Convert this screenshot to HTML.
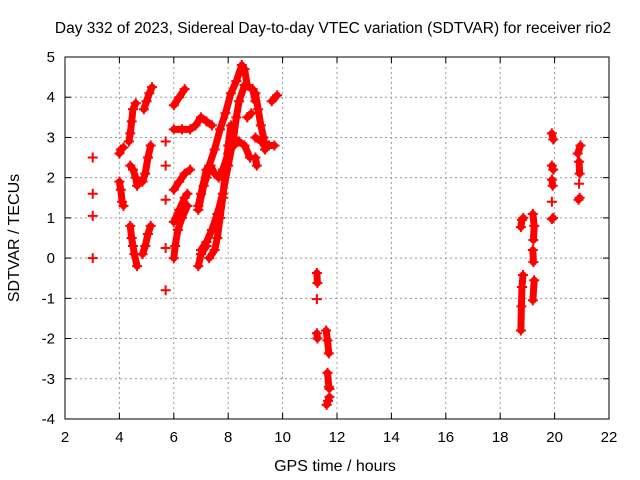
<!DOCTYPE html>
<html><head><meta charset="utf-8"><style>
body{margin:0;background:#fff;}
svg{display:block;font-family:"Liberation Sans",sans-serif;}
</style></head><body>
<svg id="c" width="640" height="480">
<text x="333" y="33" font-size="15.5" text-anchor="middle">Day 332 of 2023, Sidereal Day-to-day VTEC variation (SDTVAR) for receiver rio2</text>
<text x="335" y="471" font-size="16" text-anchor="middle">GPS time / hours</text>
<text x="19" y="238" font-size="16" text-anchor="middle" transform="rotate(-90 19 238)">SDTVAR / TECUs</text>
<g id="grid"></g><g id="ticks"></g><g id="marks"></g>
<rect x="65" y="57" width="544" height="362" fill="none" stroke="#000" stroke-width="1"/>
</svg>
<script>
const xTicks=[2,4,6,8,10,12,14,16,18,20,22];
const yTicks=[-4,-3,-2,-1,0,1,2,3,4,5];
const tracks=[
[[3.02,2.5]],[[3.02,1.6]],[[3.02,1.05]],[[3.02,0.0]],
[[4.0,2.6],[4.05,2.7],[4.15,2.75]],
[[4.0,1.9],[4.05,1.7],[4.1,1.4],[4.15,1.3]],
[[4.35,2.9],[4.4,3.1],[4.45,3.4],[4.5,3.7],[4.6,3.85]],
[[4.4,2.3],[4.5,2.2],[4.6,2.0],[4.65,1.8]],
[[4.4,0.8],[4.45,0.5],[4.5,0.3],[4.55,0.1],[4.65,-0.2]],
[[4.9,3.7],[5.0,3.9],[5.1,4.1],[5.2,4.25]],
[[4.85,1.9],[4.95,2.1],[5.05,2.5],[5.15,2.8]],
[[4.85,0.1],[4.95,0.3],[5.05,0.6],[5.15,0.8]],
[[5.7,2.9]],[[5.7,2.3]],[[5.7,1.45]],[[5.7,0.25]],[[5.7,-0.8]],
[[6.0,3.8],[6.2,4.0],[6.4,4.2]],
[[6.0,3.2],[6.3,3.2],[6.6,3.2],[6.8,3.3],[7.0,3.5],[7.2,3.4],[7.4,3.3]],
[[6.0,1.7],[6.2,1.9],[6.4,2.1],[6.6,2.2]],
[[6.0,0.9],[6.2,1.2],[6.4,1.5],[6.5,1.6]],
[[6.0,0.0],[6.05,0.3],[6.15,0.7],[6.3,1.0],[6.5,1.3]],
[[6.9,1.2],[7.1,1.8],[7.2,2.0],[7.3,2.3],[7.5,2.7],[7.7,3.2],[7.9,3.6],[8.1,4.1],[8.3,4.4],[8.5,4.8],[8.6,4.7],[8.7,4.3]],
[[6.9,1.3],[7.0,1.6],[7.2,2.2],[7.35,2.3],[7.5,2.1],[7.65,2.0],[7.8,2.2],[8.0,2.6],[8.2,2.8],[8.4,2.9],[8.6,2.8],[8.8,2.5]],
[[7.0,0.2],[7.2,0.4],[7.4,0.7],[7.6,1.1],[7.8,1.6],[8.0,2.3],[8.2,3.0],[8.3,3.5],[8.4,3.9],[8.6,4.3],[8.9,4.2],[9.0,3.9]],
[[7.3,0.0],[7.5,0.2],[7.6,0.5],[7.7,1.0],[7.8,1.5],[7.9,2.2],[8.0,2.8],[8.1,3.3]],
[[6.9,-0.2],[7.0,0.1],[7.2,0.3]],
[[9.0,4.1],[9.1,3.7],[9.2,3.3],[9.3,3.0],[9.35,2.7]],
[[9.0,3.0],[9.2,2.9],[9.5,2.8],[9.7,2.8]],
[[9.6,3.9],[9.8,4.05]],[[8.7,3.5],[8.85,3.6]],[[9.0,2.5],[9.05,2.3]],
[[11.26,-0.37],[11.28,-0.62]],[[11.26,-1.02]],[[11.26,-1.87],[11.28,-2.0]],
[[11.6,-1.8],[11.65,-2.05],[11.7,-2.37]],[[11.65,-2.85],[11.7,-3.2],[11.72,-3.25]],[[11.62,-3.65],[11.67,-3.55],[11.72,-3.45]],
[[18.76,0.77],[18.8,0.95],[18.85,1.0]],
[[18.76,-1.8],[18.78,-1.2],[18.8,-0.72],[18.84,-0.42]],
[[19.2,1.1],[19.25,0.8],[19.22,0.45]],[[19.2,0.2],[19.22,-0.1]],[[19.2,-1.05],[19.25,-0.55]],
[[19.9,3.1],[19.95,2.95]],[[19.9,2.3],[19.95,2.2]],[[19.9,1.95],[19.93,1.8]],[[19.9,1.4]],[[19.9,0.97],[19.95,1.0]],
[[20.85,2.6],[20.95,2.8]],[[20.9,2.4],[20.92,2.1]],[[20.9,1.85]],[[20.88,1.45],[20.92,1.5]]
];
const X=h=>65+(h-2)*27.2, Y=v=>57+(5-v)*40.22;
const NS="http://www.w3.org/2000/svg";
const grid=document.getElementById('grid'),ticks=document.getElementById('ticks'),marks=document.getElementById('marks');
function mk(t,a,p){const e=document.createElementNS(NS,t);for(const k in a)e.setAttribute(k,a[k]);p.appendChild(e);return e;}
xTicks.forEach(t=>{const x=X(t);
 if(t>2&&t<22){const g=mk('line',{x1:x,x2:x,y1:57,y2:419,stroke:'#999','stroke-dasharray':'2,3'},grid);
 
 }
 mk('line',{x1:x,x2:x,y1:419,y2:413,stroke:'#000'},ticks);mk('line',{x1:x,x2:x,y1:57,y2:63,stroke:'#000'},ticks);
 const l=mk('text',{x:x,y:442,'font-size':15,'text-anchor':'middle'},ticks);l.textContent=t;
 
 });
yTicks.forEach(t=>{const y=Y(t);
 if(t>-4&&t<5){const g=mk('line',{x1:65,x2:609,y1:y,y2:y,stroke:'#999','stroke-dasharray':'2,3'},grid);
 
 }
 mk('line',{x1:65,x2:71,y1:y,y2:y,stroke:'#000'},ticks);mk('line',{x1:609,x2:603,y1:y,y2:y,stroke:'#000'},ticks);
 const l=mk('text',{x:55,y:y+5,'font-size':15,'text-anchor':'end'},ticks);l.textContent=t;
 
 });
tracks.forEach(tr=>{
 if(tr.length>1){const pl=mk('polyline',{points:tr.map(p=>X(p[0])+','+Y(p[1])).join(' '),fill:'none',stroke:'#f00','stroke-width':7,'stroke-linejoin':'round','stroke-linecap':'round'},marks);
 
 }
 tr.forEach(p=>{const x=X(p[0]),y=Y(p[1]);
  const m=mk('path',{d:`M${x-5} ${y}h10M${x} ${y-5}v10`,stroke:'#f00','stroke-width':2},marks);
  
  });
});
</script>
</body></html>
